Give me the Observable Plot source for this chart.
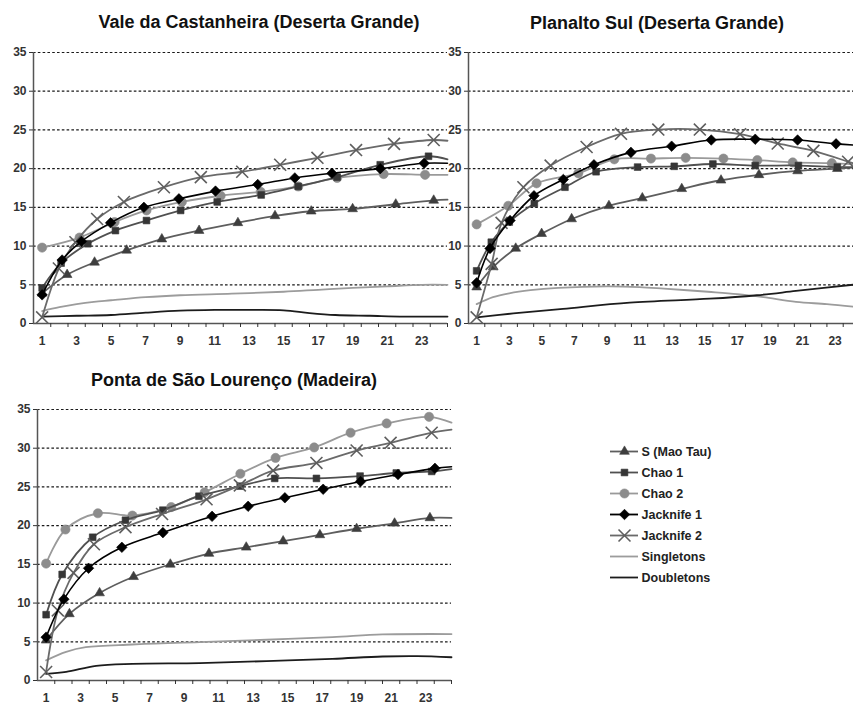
<!DOCTYPE html>
<html>
<head>
<meta charset="utf-8">
<script src="https://cdn.jsdelivr.net/npm/d3@7"></script>
<script src="https://cdn.jsdelivr.net/npm/@observablehq/plot@0.6"></script>
<style>
  body { margin: 0; background: #fff; }
  #wrap { position: relative; width: 853px; height: 705px; overflow: hidden; background: #fff;
          font-family: "Liberation Sans", Arial, sans-serif; }
  .title { position: absolute; font-weight: bold; font-size: 18px; line-height: 18px; color: #111;
           white-space: nowrap; transform: translateX(-50%); }
  .panel { position: absolute; }
</style>
</head>
<body>
<div id="wrap"></div>
<script>
// ---------- labels ----------
const seriesNames = ["S (Mao Tau)", "Chao 1", "Chao 2", "Jacknife 1", "Jacknife 2", "Singletons", "Doubletons"];
const panelTitles = ["Vale da Castanheira (Deserta Grande)", "Planalto Sul (Deserta Grande)", "Ponta de São Lourenço (Madeira)"];
const xLabelTicks = [1, 3, 5, 7, 9, 11, 13, 15, 17, 19, 21, 23];
const xBoundaryTicks = [1.5, 2.5, 3.5, 4.5, 5.5, 6.5, 7.5, 8.5, 9.5, 10.5, 11.5, 12.5, 13.5, 14.5, 15.5, 16.5, 17.5, 18.5, 19.5, 20.5, 21.5, 22.5, 23.5, 24.5];
const yTicks = [0, 5, 10, 15, 20, 25, 30, 35];

// ---------- Vale da Castanheira (Deserta Grande) : [sample, species] ----------
const vale_S = [[1,3.9],[2.45,6.3],[4.04,7.9],[5.9,9.45],[7.94,10.9],[10.1,12.0],[12.35,13.0],[14.5,13.9],[16.6,14.5],[19.0,14.8],[21.5,15.4],[23.7,15.9],[24.5,16.0]];
const vale_Chao1 = [[1,4.6],[2.1,7.8],[3.65,10.3],[5.25,12.0],[7.05,13.3],[9.03,14.6],[11.15,15.7],[13.7,16.6],[15.85,17.7],[18.1,18.9],[20.6,20.5],[23.4,21.6],[24.5,21.2]];
const vale_Chao2 = [[1,9.8],[3.17,11.1],[5.2,13.1],[7.05,14.6],[9.1,15.7],[11.35,16.5],[13.67,17.0],[15.85,17.7],[18.1,18.8],[20.8,19.3],[23.2,19.2],[24.5,19.2]];
const vale_Jack1 = [[1,3.7],[2.16,8.2],[3.28,10.6],[4.97,13.0],[6.9,15.0],[8.93,16.1],[11.05,17.1],[13.5,17.95],[15.65,18.8],[17.8,19.4],[20.6,20.0],[23.15,20.7],[24.5,20.7]];
const vale_Jack2 = [[1,0.8],[1.97,7.1],[2.93,10.5],[4.19,13.5],[5.74,15.7],[8.06,17.6],[10.2,18.9],[12.6,19.6],[14.8,20.5],[16.96,21.4],[19.2,22.4],[21.4,23.2],[23.7,23.7],[24.5,23.6]];
const vale_Single = [[1,1.6],[2,2.1],[3,2.5],[4,2.8],[5,3.0],[7,3.4],[9,3.65],[12,3.85],[15,4.1],[17,4.35],[19,4.6],[21,4.8],[23,5.0],[24.5,5.0]];
const vale_Double = [[1,0.9],[3,1.0],[5,1.1],[7,1.4],[9,1.65],[11,1.75],[13,1.75],[15,1.7],[16.5,1.35],[18,1.1],[20,1.0],[22,0.9],[24.5,0.9]];

// ---------- Planalto Sul (Deserta Grande) ----------
const plan_S = [[1,4.7],[2.02,7.3],[3.4,9.7],[4.99,11.6],[6.83,13.5],[9.12,15.2],[11.17,16.2],[13.59,17.4],[16.0,18.5],[18.33,19.2],[20.7,19.7],[23.14,20.0],[24.5,20.2]];
const plan_Chao1 = [[1,6.8],[1.9,10.5],[3.0,13.1],[4.54,15.5],[6.42,17.6],[8.33,19.6],[10.88,20.2],[13.13,20.3],[15.5,20.6],[18.1,20.4],[20.75,20.4],[23.14,20.2],[24.5,20.2]];
const plan_Chao2 = [[1,12.8],[2.94,15.2],[4.68,18.1],[7.24,19.4],[9.45,21.2],[11.7,21.3],[13.83,21.4],[16.15,21.3],[18.23,21.1],[20.4,20.8],[22.8,20.7],[24.5,20.5]];
const plan_Jack1 = [[1,5.25],[1.82,9.7],[3.05,13.3],[4.52,16.5],[6.32,18.6],[8.2,20.5],[10.47,22.1],[12.97,22.9],[15.4,23.7],[18.1,23.8],[20.7,23.7],[23.06,23.2],[24.5,23.0]];
const plan_Jack2 = [[1,0.8],[1.92,7.7],[2.53,13.0],[3.87,17.6],[5.54,20.4],[7.75,22.8],[9.86,24.5],[12.15,25.05],[14.7,25.05],[17.17,24.45],[19.48,23.25],[21.67,22.3],[23.8,20.9],[24.5,20.4]];
const plan_Single = [[1,2.5],[2,3.4],[3,3.9],[4.3,4.3],[6,4.6],[9,4.8],[11,4.7],[12.5,4.5],[15.2,4.1],[17,3.8],[18.6,3.4],[20.6,2.8],[22.5,2.5],[24.5,2.1]];
const plan_Double = [[1,0.8],[3.25,1.3],[6.3,1.9],[10.4,2.7],[15.3,3.2],[18.2,3.65],[20.6,4.2],[24.5,5.1]];

// ---------- Ponta de São Lourenço (Madeira) ----------
const ponta_S = [[1,5.2],[2.35,8.6],[4.1,11.3],[6.07,13.4],[8.2,15.0],[10.44,16.4],[12.6,17.2],[14.74,18.0],[16.87,18.8],[19.0,19.6],[21.2,20.3],[23.25,21.0],[24.5,21.0]];
const ponta_Chao1 = [[1,8.5],[1.93,13.7],[3.7,18.5],[5.6,20.7],[7.77,22.0],[9.86,23.8],[12.25,25.1],[14.25,26.1],[16.67,26.1],[19.2,26.4],[21.3,26.8],[23.35,27.0],[24.5,27.3]];
const ponta_Chao2 = [[1,15.1],[2.12,19.5],[4.0,21.6],[6.0,21.3],[8.25,22.4],[10.19,24.3],[12.26,26.7],[14.3,28.75],[16.54,30.1],[18.65,32.0],[20.74,33.2],[23.2,34.05],[24.5,33.3]];
const ponta_Jack1 = [[1,5.6],[2.03,10.5],[3.46,14.5],[5.39,17.2],[7.77,19.1],[10.62,21.2],[12.71,22.5],[14.84,23.6],[17.06,24.7],[19.23,25.7],[21.4,26.6],[23.54,27.4],[24.5,27.6]];
const ponta_Jack2 = [[1,1.1],[1.68,9.05],[2.59,13.9],[3.77,17.6],[5.6,19.8],[7.72,21.5],[10.3,23.4],[12.23,25.2],[14.16,27.1],[16.67,28.1],[19.0,29.7],[20.97,30.7],[23.35,32.0],[24.5,32.4]];
const ponta_Single = [[1,2.6],[2.16,3.7],[3.3,4.3],[6,4.65],[9.9,4.95],[13.77,5.26],[17.6,5.6],[20.5,5.95],[24.5,6.0]];
const ponta_Double = [[1,0.85],[2.16,1.1],[3.9,1.9],[6,2.15],[9.9,2.25],[13.77,2.5],[17.6,2.8],[20.5,3.1],[22.5,3.15],[24.5,3.0]];

// ---------- styles ----------
const diamond = { draw(ctx, size) { const r = Math.sqrt(size / 2); ctx.moveTo(0, -r); ctx.lineTo(r, 0); ctx.lineTo(0, r); ctx.lineTo(-r, 0); ctx.closePath(); } };
const styles = {
  "S (Mao Tau)": { line: "#5e5e5e", mark: "#3e3e3e", symbol: "triangle", r: 3.6 },
  "Chao 1":      { line: "#505050", mark: "#363636", symbol: "square", r: 3.8 },
  "Chao 2":      { line: "#9a9a9a", mark: "#8c8c8c", symbol: "circle", r: 4.6 },
  "Jacknife 1":  { line: "#000000", mark: "#000000", symbol: diamond, r: 4.2 },
  "Jacknife 2":  { line: "#6a6a6a", mark: "#5e5e5e", symbol: "times", r: 5.5 },
  "Singletons":  { line: "#9c9c9c" },
  "Doubletons":  { line: "#1c1c1c" }
};
const drawOrder = ["Singletons", "Doubletons", "S (Mao Tau)", "Chao 2", "Chao 1", "Jacknife 2", "Jacknife 1"];

const panels = [
  { title: panelTitles[0], titleX: 259, titleY: 13, left: 0, top: 40, plotW: 414, bottom: 28,
    data: { "S (Mao Tau)": vale_S, "Chao 1": vale_Chao1, "Chao 2": vale_Chao2, "Jacknife 1": vale_Jack1, "Jacknife 2": vale_Jack2, "Singletons": vale_Single, "Doubletons": vale_Double } },
  { title: panelTitles[1], titleX: 657, titleY: 14, left: 435, top: 40, plotW: 391, bottom: 28,
    data: { "S (Mao Tau)": plan_S, "Chao 1": plan_Chao1, "Chao 2": plan_Chao2, "Jacknife 1": plan_Jack1, "Jacknife 2": plan_Jack2, "Singletons": plan_Single, "Doubletons": plan_Double } },
  { title: panelTitles[2], titleX: 234, titleY: 371, left: 4, top: 397, plotW: 414, bottom: 25,
    data: { "S (Mao Tau)": ponta_S, "Chao 1": ponta_Chao1, "Chao 2": ponta_Chao2, "Jacknife 1": ponta_Jack1, "Jacknife 2": ponta_Jack2, "Singletons": ponta_Single, "Doubletons": ponta_Double } }
];

const wrap = document.getElementById("wrap");
const fontStyle = { fontFamily: "'Liberation Sans', Arial, sans-serif", fontSize: "12px", fontWeight: "bold", color: "#333", background: "transparent", overflow: "visible" };

function dotMark(pts, s) {
  const opts = { x: d => d[0], y: d => d[1], symbol: s.symbol, r: s.r };
  if (s.symbol === "times") return Plot.dot(pts, { ...opts, stroke: s.mark, strokeWidth: 1.6, fill: "none" });
  return Plot.dot(pts, { ...opts, fill: s.mark, stroke: s.mark, strokeWidth: 0.6 });
}

for (const p of panels) {
  const t = document.createElement("div");
  t.className = "title";
  t.textContent = p.title;
  t.style.left = p.titleX + "px";
  t.style.top = p.titleY + "px";
  wrap.appendChild(t);

  const marks = [
    Plot.ruleY(yTicks.filter(v => v > 0), { stroke: "#1a1a1a", strokeDasharray: "2.6,2.2", strokeWidth: 1.2 }),
    Plot.ruleX([0.5], { y1: 0, y2: 35, stroke: "#555", strokeWidth: 1.5 }),
    Plot.ruleY([0], { stroke: "#555", strokeWidth: 1.5 }),
    Plot.axisY({ ticks: yTicks, tickSize: 4, tickPadding: 3, tickFormat: d => d }),
    Plot.axisX({ ticks: xBoundaryTicks, tickSize: 4, tickFormat: () => "" }),
    Plot.axisX({ ticks: xLabelTicks, tickSize: 0, tickPadding: 13, tickFormat: d => d })
  ];
  for (const name of drawOrder) {
    const s = styles[name];
    const pts = p.data[name];
    marks.push(Plot.line(pts, { x: d => d[0], y: d => d[1], curve: "catmull-rom", stroke: s.line, strokeWidth: name === "Jacknife 1" ? 1.6 : 1.8 }));
    if (s.symbol) marks.push(dotMark(pts.slice(0, -1), s));
  }
  const chart = Plot.plot({
    width: 33 + p.plotW, height: 12 + 271 + p.bottom,
    marginLeft: 33, marginRight: 0, marginTop: 12, marginBottom: p.bottom,
    x: { domain: [0.5, 24.5], axis: null },
    y: { domain: [0, 35], axis: null },
    style: fontStyle,
    marks
  });
  chart.classList.add("panel");
  chart.style.left = p.left + "px";
  chart.style.top = p.top + "px";
  wrap.appendChild(chart);
}

// ---------- legend ----------
const legendMarked = seriesNames.filter(n => styles[n].symbol);
const legend = Plot.plot({
  width: 160, height: 150, marginLeft: 10, marginRight: 122, marginTop: 10, marginBottom: 12.3,
  x: { domain: [0, 1], axis: null },
  y: { type: "point", domain: seriesNames, padding: 0, axis: null },
  style: { ...fontStyle, fontSize: "12.5px", color: "#222" },
  marks: [
    Plot.ruleY(seriesNames, { y: d => d, x1: 0, x2: 1, stroke: d => styles[d].line, strokeWidth: 1.8 }),
    ...legendMarked.map(n => dotMark([[0.5, n]], styles[n])),
    Plot.text(seriesNames, { y: d => d, x: 1, text: d => d, dx: 3, textAnchor: "start", fill: "#222" })
  ]
});
legend.classList.add("panel");
legend.style.left = "600px";
legend.style.top = "440px";
wrap.appendChild(legend);
</script>
</body>
</html>
